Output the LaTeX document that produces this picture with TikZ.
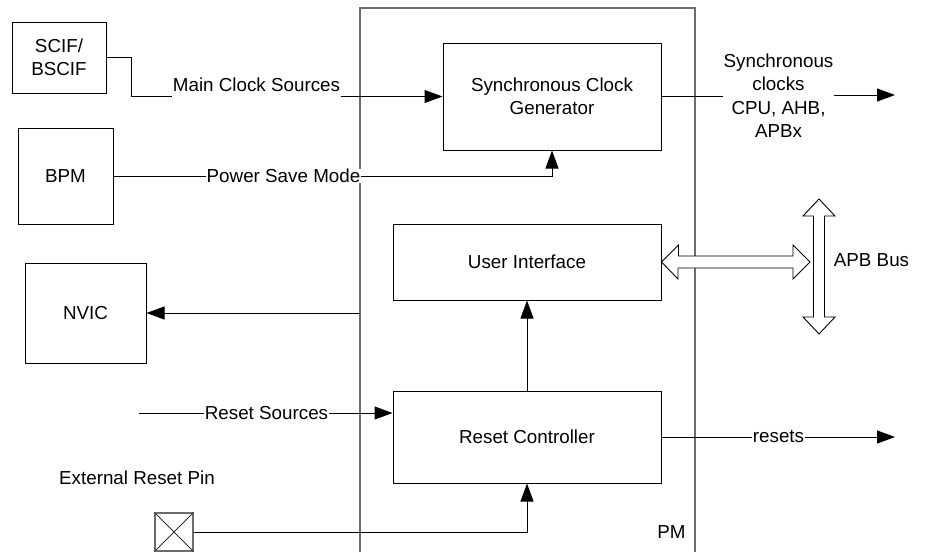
\documentclass[tikz,border=0pt]{standalone}
\usepackage{fontspec}
\setmainfont{Liberation Sans}
\usetikzlibrary{arrows.meta}
\begin{document}
\begin{tikzpicture}[x=1pt,y=-1pt,
  every node/.style={font=\fontsize{18.8}{23.5}\selectfont, align=center},
  blk/.style={draw=black, line width=1pt, rectangle, inner sep=0pt},
  lbl/.style={inner sep=0.5pt},
  wlbl/.style={inner sep=0.5pt, fill=white},
  conn/.style={draw=black, line width=1pt},
  arr/.style={conn, -{Triangle[length=18pt,width=13pt]}},
  pmline/.style={draw=gray!85!black, line width=1.4pt},
  bus/.style={draw=black, line width=0.9pt, fill=white, line join=miter}]
\useasboundingbox (0,0) rectangle (925,552);
% PM container
\draw[pmline] (360,552) -- (360,8) -- (695,8) -- (695,552);
% blocks
\node[blk, minimum width=94pt, minimum height=71pt] (scif) at (59,57.5) {SCIF/\\BSCIF};
\node[blk, minimum width=95pt, minimum height=96pt] (bpm) at (65.5,176) {BPM};
\node[blk, minimum width=121pt, minimum height=100pt] (nvic) at (85.5,313) {NVIC};
\node[blk, fill=white, minimum width=218pt, minimum height=107pt] (sgc) at (552,96.5) {Synchronous Clock\\Generator};
\node[blk, minimum width=268pt, minimum height=76pt] (ui) at (527,262) {User Interface};
\node[blk, minimum width=268pt, minimum height=92pt] (rc) at (527,437) {Reset Controller};
\node[draw=gray!85!black, line width=1.2pt, minimum width=38pt, minimum height=38pt, inner sep=0pt] (pin) at (174,532) {};
\draw[draw=black!80, line width=0.8pt] (pin.north west) -- (pin.south east) (pin.north east) -- (pin.south west);
% labels
\node[lbl] (mcs) at (256.5,85) {Main Clock Sources};
\node[lbl, inner sep=0pt] (sc) at (778.5,95.5) {Synchronous\\clocks\\CPU, AHB,\\APBx};
\node[lbl] (apb) at (871.5,260) {APB Bus};
\node[lbl] (erp) at (137,478) {External Reset Pin};
\node[lbl] (pm) at (671.5,532) {PM};
\coordinate (scout) at (895,95);
\coordinate (rsin) at (139,413);
\coordinate (rout) at (895,437);
\coordinate (irq) at (360,313);
% connectors
\draw[conn] (scif.east) -| (131,96.5) -- (mcs.west |- sgc.west);
\draw[arr] (mcs.east |- sgc.west) -- (sgc.west);
\draw[conn] (sgc.east) -- (sgc.east -| sc.west);
\draw[arr] (sc.east |- scout) -- (scout);
\draw[arr] (bpm.east) -- (sgc.south |- bpm.east) -- (sgc.south);
\node[wlbl] (psm) at (283.5,176) {Power Save Mode};
\draw[arr] (irq) -- (nvic.east);
\draw[arr] (rc.north) -- (ui.south);
\draw[arr] (rsin) -- (rc.west |- rsin);
\node[wlbl] (rs) at (266.5,413) {Reset Sources};
\draw[arr] (rc.east) -- (rout);
\node[wlbl] (rst) at (778.5,437) {resets};
\draw[arr] (pin.east) -| (rc.south);
% APB bus arrows
\draw[bus] (ui.east) -- ++(17,-17) -- ++(0,11) -- (793,256) -- (793,245) -- (810,262) -- (793,279) -- (793,268) -- (678,268) -- (678,279) -- cycle;
\draw[bus] (819,199) -- (835,216) -- (824.5,216) -- (824.5,317) -- (835,317) -- (819,334) -- (803,317) -- (813.5,317) -- (813.5,216) -- (803,216) -- cycle;
\end{tikzpicture}
\end{document}
